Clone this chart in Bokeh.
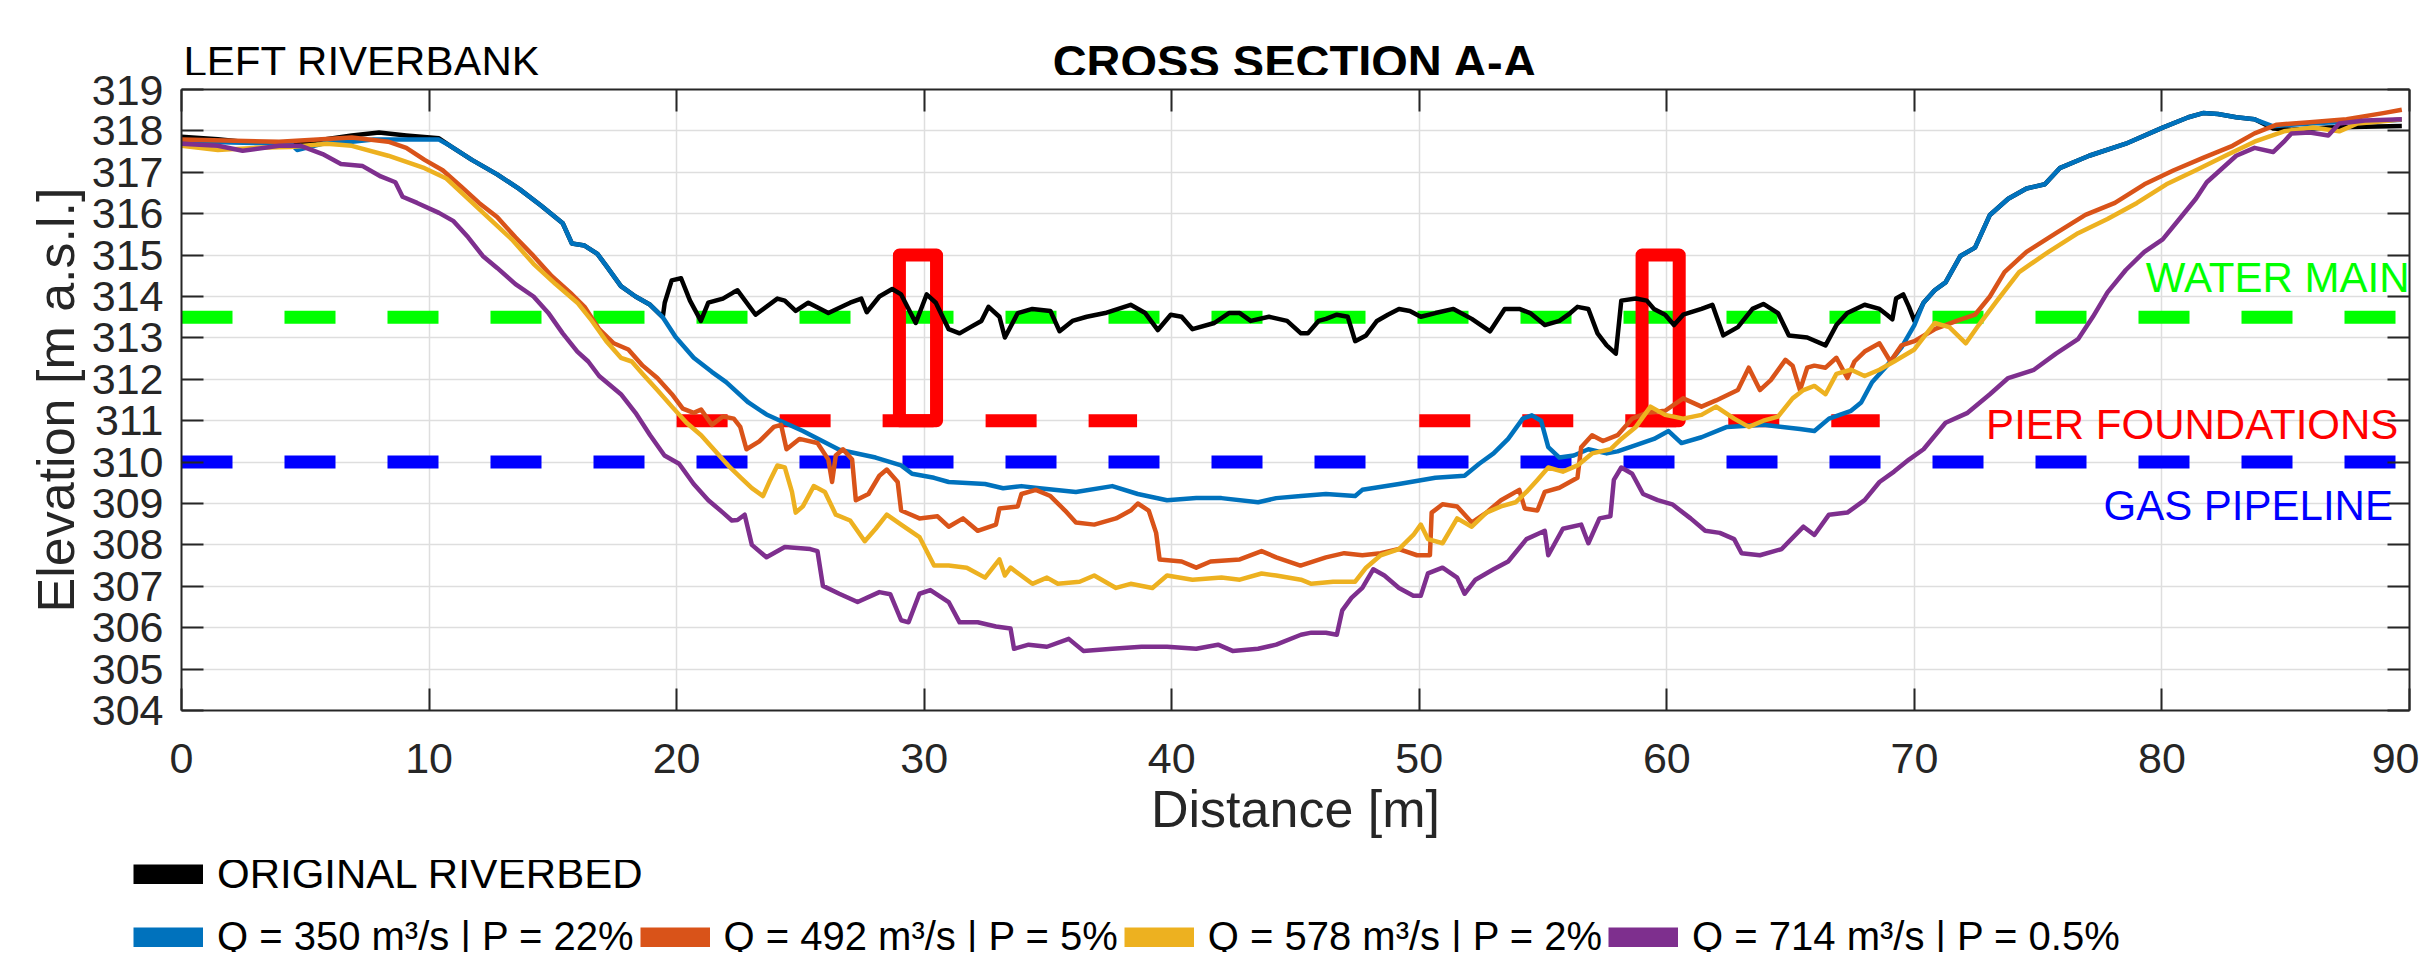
from bokeh.plotting import figure
from bokeh.layouts import column
from bokeh.models import Range1d, FixedTicker, LinearAxis, Label, Legend, LegendItem
from bokeh.embed import file_html
from bokeh.resources import INLINE

FONT = "Liberation Sans"
AX = "#262626"
GRID = "#DEDEDE"
NAN = float("nan")

# ---------------- data ----------------
x_ticks = [0, 10, 20, 30, 40, 50, 60, 70, 80, 90]
y_ticks = list(range(304, 320))

names = ["ORIGINAL RIVERBED",
         "Q = 350 m³/s | P = 22%",
         "Q = 492 m³/s | P = 5%",
         "Q = 578 m³/s | P = 2%",
         "Q = 714 m³/s | P = 0.5%"]
colors = ["#000000", "#0072BD", "#D95319", "#EDB120", "#7E2F8E"]

orig_x = [0, 1.47, 2.47, 4.41, 5.41, 6.88, 7.98, 9.08, 10.4, 10.85,
          11.73, 12.75, 13.64, 14.52, 15.4, 15.77, 16.28, 16.8, 17.16, 17.75,
          18.34, 18.93, 19.44, 19.52, 19.8, 20.18, 20.54, 20.98, 21.28, 21.87,
          22.3, 22.46, 23.19, 24.07, 24.37, 24.81, 25.32, 26.13, 27.01, 27.46,
          27.68, 28.19, 28.71, 29.07, 29.66, 30.1, 30.47, 30.99, 31.43, 31.87,
          32.31, 32.6, 33.04, 33.26, 33.78, 34.37, 35.1, 35.47, 35.99, 36.57,
          37.31, 38.34, 38.93, 39.44, 39.96, 40.4, 40.84, 41.72, 42.31, 42.75,
          43.19, 43.93, 44.66, 45.22, 45.5, 45.93, 46.23, 46.67, 47.11, 47.41,
          47.85, 48.29, 48.73, 49.18, 49.62, 50.06, 50.65, 51.38, 52.12, 52.86,
          53.45, 54.04, 54.48, 55.07, 55.66, 56.1, 56.39, 56.83, 57.2, 57.57,
          57.94, 58.16, 58.75, 59.19, 59.48, 59.93, 60.29, 60.66, 61.4, 61.84,
          62.28, 62.87, 63.46, 63.9, 64.49, 64.93, 65.67, 66.41, 66.85, 67.29,
          67.99, 68.59, 68.89, 69.11, 69.26, 69.55, 69.78, 70.0, 70.37, 70.82,
          71.26, 71.86, 72.45, 73.05, 73.79, 74.53, 75.27, 75.87, 77.06, 78.54,
          80.03, 81.07, 81.66, 82.26, 83.0, 83.74, 84.49, 85.23, 86.72, 88.2,
          89.69]
orig_y = [317.86, 317.8, 317.74, 317.69, 317.76, 317.89, 317.96, 317.89, 317.82, 317.64,
          317.3, 316.95, 316.6, 316.2, 315.77, 315.28, 315.23, 315.03, 314.74, 314.25,
          314.0, 313.8, 313.5, 313.85, 314.39, 314.44, 313.9, 313.41, 313.85, 313.95,
          314.1, 314.15, 313.56, 313.95, 313.9, 313.65, 313.85, 313.6, 313.85, 313.95,
          313.62, 314.0, 314.18, 314.05, 313.36, 314.05, 313.85, 313.21, 313.11, 313.26,
          313.41, 313.75, 313.51, 313.01, 313.6, 313.7, 313.65, 313.16, 313.41, 313.51,
          313.6, 313.8, 313.6, 313.19, 313.56, 313.51, 313.21, 313.36, 313.6, 313.6,
          313.41, 313.51, 313.41, 313.11, 313.11, 313.41, 313.46, 313.56, 313.51, 312.92,
          313.06, 313.41, 313.56, 313.7, 313.65, 313.51, 313.6, 313.7, 313.46, 313.16,
          313.7, 313.7, 313.6, 313.31, 313.41, 313.6, 313.75, 313.7, 313.11, 312.82,
          312.62, 313.9, 313.95, 313.9, 313.7, 313.56, 313.31, 313.56, 313.7, 313.8,
          313.06, 313.26, 313.7, 313.82, 313.6, 313.06, 313.01, 312.82, 313.31, 313.6,
          313.8, 313.7, 313.56, 313.45, 313.95, 314.05, 313.75, 313.41, 313.85, 314.15,
          314.34, 314.98, 315.18, 315.97, 316.36, 316.61, 316.71, 317.1, 317.4, 317.69,
          318.08, 318.33, 318.43, 318.41, 318.33, 318.28, 318.06, 318.03, 318.08, 318.1,
          318.12]

q350_x = [0, 2.0, 4.41, 4.67, 5.88, 6.88, 7.76, 9.82, 10.4, 10.85,
          11.73, 12.75, 13.64, 14.52, 15.4, 15.77, 16.28, 16.8, 17.16, 17.75,
          18.34, 18.93, 19.44, 19.96, 20.69, 21.42, 22.0, 22.9, 23.63, 25.1,
          26.57, 28.04, 29.07, 29.51, 30.4, 30.99, 32.46, 33.19, 33.93, 34.66,
          36.13, 37.6, 38.63, 39.81, 40.99, 42.01, 43.49, 44.22, 45.22, 46.23,
          47.41, 47.7, 49.18, 50.65, 51.83, 52.42, 53.0, 53.59, 54.18, 54.55,
          54.92, 55.21, 55.66, 56.24, 56.83, 57.57, 58.01, 58.75, 59.48, 60.07,
          60.59, 61.4, 62.43, 63.9, 65.38, 65.96, 66.55, 67.44, 67.85, 68.29,
          68.89, 69.48, 70.0, 70.37, 70.82, 71.26, 71.86, 72.45, 73.05, 73.79,
          74.53, 75.27, 75.87, 77.06, 78.54, 80.03, 81.07, 81.66, 82.26, 83.0,
          83.74, 84.49, 85.23, 86.72, 88.2, 89.69]
q350_y = [317.76, 317.72, 317.69, 317.54, 317.72, 317.74, 317.79, 317.79, 317.79, 317.64,
          317.3, 316.95, 316.6, 316.2, 315.77, 315.28, 315.23, 315.03, 314.74, 314.25,
          314.0, 313.8, 313.5, 313.02, 312.52, 312.18, 311.93, 311.44, 311.15, 310.75,
          310.3, 310.11, 309.92, 309.72, 309.62, 309.52, 309.47, 309.37, 309.42, 309.37,
          309.28, 309.42, 309.23, 309.08, 309.13, 309.13, 309.03, 309.13, 309.18, 309.23,
          309.18, 309.33, 309.47, 309.62, 309.67, 309.96, 310.21, 310.56, 311.05, 311.13,
          311.0, 310.36, 310.11, 310.16, 310.31, 310.21, 310.26, 310.41, 310.56, 310.75,
          310.46, 310.6, 310.85, 310.9, 310.8, 310.75, 311.05, 311.24, 311.44, 311.93,
          312.33, 312.77, 313.31, 313.85, 314.15, 314.34, 314.98, 315.18, 315.97, 316.36,
          316.61, 316.71, 317.1, 317.4, 317.69, 318.08, 318.33, 318.43, 318.41, 318.33,
          318.28, 318.11, 318.15, 318.2, 318.22, 318.27]

q492_x = [0, 3.94, 6.88, 8.35, 9.08, 9.82, 10.55, 11.29, 12.02, 12.75,
          13.49, 14.22, 14.96, 15.69, 16.28, 16.87, 17.46, 18.05, 18.63, 19.22,
          19.81, 20.25, 20.69, 20.99, 21.42, 21.87, 22.31, 22.57, 22.82, 23.34,
          23.93, 24.22, 24.44, 24.96, 25.69, 26.13, 26.28, 26.43, 26.72, 27.09,
          27.24, 27.75, 28.19, 28.49, 28.93, 29.07, 29.81, 30.54, 30.99, 31.57,
          32.16, 32.9, 33.04, 33.78, 33.93, 34.51, 35.1, 35.69, 36.13, 36.87,
          37.75, 38.34, 38.63, 39.07, 39.37, 39.51, 40.4, 40.99, 41.57, 42.75,
          43.63, 44.22, 45.2, 46.23, 46.97, 47.7, 48.44, 49.18, 49.91, 50.43,
          50.5, 50.94, 51.53, 52.12, 52.71, 53.3, 54.04, 54.26, 54.77, 55.07,
          55.66, 56.39, 56.54, 56.98, 57.42, 58.01, 58.6, 59.19, 59.93, 60.66,
          61.4, 61.99, 62.87, 63.31, 63.76, 64.2, 64.79, 65.08, 65.38, 65.67,
          65.96, 66.41, 66.85, 67.29, 67.58, 67.99, 68.59, 69.03, 69.48, 70.0,
          70.82, 71.71, 72.45, 73.05, 73.64, 74.53, 75.72, 76.91, 78.1, 79.29,
          80.48, 81.66, 82.85, 83.74, 84.64, 85.97, 87.46, 88.94, 89.69]
q492_y = [317.79, 317.74, 317.84, 317.74, 317.59, 317.3, 317.05, 316.66, 316.26, 315.92,
          315.43, 314.98, 314.49, 314.1, 313.75, 313.21, 312.87, 312.72, 312.33, 312.03,
          311.64, 311.29, 311.19, 311.27, 310.9, 311.1, 311.05, 310.85, 310.31, 310.5,
          310.85, 310.9, 310.31, 310.56, 310.46, 310.06, 309.52, 310.16, 310.31, 310.06,
          309.08, 309.23, 309.67, 309.82, 309.52, 308.83, 308.64, 308.69, 308.44, 308.64,
          308.34, 308.49, 308.88, 308.93, 309.23, 309.33, 309.18, 308.83, 308.54, 308.49,
          308.64, 308.83, 309.0, 308.83, 308.29, 307.65, 307.6, 307.45, 307.6, 307.65,
          307.85, 307.7, 307.5, 307.7, 307.8, 307.75, 307.8, 307.9, 307.75, 307.75,
          308.78, 308.98, 308.93, 308.54, 308.78, 309.08, 309.33, 308.88, 308.83, 309.28,
          309.38, 309.62, 310.36, 310.65, 310.51, 310.65, 311.05, 311.19, 311.24, 311.54,
          311.34, 311.49, 311.74, 312.28, 311.74, 311.98, 312.47, 312.33, 311.74, 312.28,
          312.33, 312.28, 312.52, 312.03, 312.43, 312.67, 312.87, 312.43, 312.82, 312.92,
          313.21, 313.41, 313.56, 314.0, 314.59, 315.08, 315.53, 315.97, 316.26, 316.71,
          317.05, 317.35, 317.64, 317.94, 318.15, 318.21, 318.28, 318.43, 318.51]

q578_x = [0, 1.47, 2.94, 4.41, 5.88, 6.88, 8.35, 9.82, 10.7, 11.58,
          12.46, 13.34, 14.22, 15.11, 15.99, 16.58, 17.16, 17.75, 18.19, 18.63,
          19.22, 19.81, 20.4, 20.99, 21.57, 22.16, 22.6, 23.04, 23.49, 23.78,
          24.07, 24.37, 24.66, 24.81, 25.1, 25.54, 25.99, 26.43, 27.01, 27.6,
          28.04, 28.49, 29.07, 29.81, 30.4, 30.99, 31.72, 32.46, 33.04, 33.26,
          33.49, 34.37, 34.96, 35.4, 36.28, 36.87, 37.75, 38.34, 39.22, 39.81,
          40.84, 42.01, 42.75, 43.63, 44.22, 45.22, 45.64, 46.52, 47.41, 47.85,
          48.44, 49.18, 49.76, 50.06, 50.35, 50.94, 51.53, 52.12, 52.71, 53.3,
          53.89, 54.33, 54.77, 55.21, 55.8, 56.39, 56.98, 57.72, 58.16, 58.75,
          59.34, 59.93, 60.66, 61.4, 61.99, 62.72, 63.31, 63.9, 64.49, 65.08,
          65.52, 65.96, 66.41, 66.85, 67.44, 67.99, 68.59, 69.18, 70.0, 70.82,
          71.41, 72.08, 72.6, 73.34, 74.23, 75.42, 76.61, 77.8, 78.99, 80.18,
          81.37, 82.56, 83.74, 84.93, 86.12, 87.16, 87.9, 88.94, 89.69]
q578_y = [317.64, 317.54, 317.59, 317.61, 317.69, 317.64, 317.4, 317.1, 316.85, 316.36,
          315.87, 315.38, 314.79, 314.3, 313.85, 313.41, 312.92, 312.52, 312.43, 312.13,
          311.74, 311.34, 310.95, 310.65, 310.26, 309.87, 309.62, 309.37, 309.18, 309.57,
          309.92, 309.87, 309.28, 308.78, 308.93, 309.42, 309.28, 308.73, 308.59, 308.09,
          308.39, 308.73, 308.49, 308.19, 307.5, 307.5, 307.45, 307.21, 307.65, 307.26,
          307.45, 307.06, 307.21, 307.06, 307.11, 307.26, 306.96, 307.06, 306.96, 307.26,
          307.16, 307.21, 307.16, 307.31, 307.26, 307.16, 307.06, 307.11, 307.11, 307.45,
          307.75, 307.9, 308.24, 308.49, 308.14, 308.04, 308.64, 308.44, 308.78, 308.93,
          309.03, 309.28, 309.57, 309.87, 309.77, 309.92, 310.21, 310.31, 310.56, 310.85,
          311.34, 311.14, 311.05, 311.14, 311.34, 311.05, 310.85, 311.0, 311.1, 311.54,
          311.74, 311.84, 311.64, 312.13, 312.23, 312.08, 312.23, 312.43, 312.72, 313.36,
          313.26, 312.87, 313.31, 313.9, 314.59, 315.08, 315.53, 315.87, 316.26, 316.71,
          317.05, 317.4, 317.74, 317.99, 318.08, 317.99, 318.18, 318.23, 318.28]

q714_x = [0, 1.47, 2.47, 3.94, 4.82, 5.7, 6.44, 7.32, 8.05, 8.64,
          8.93, 9.52, 10.4, 10.99, 11.58, 12.17, 12.75, 13.49, 14.22, 14.81,
          15.4, 15.99, 16.43, 16.87, 17.75, 18.34, 18.93, 19.51, 20.1, 20.69,
          21.28, 21.87, 22.23, 22.46, 22.75, 23.04, 23.63, 24.37, 25.4, 25.69,
          25.91, 26.57, 27.31, 28.19, 28.63, 29.07, 29.37, 29.81, 30.25, 30.99,
          31.43, 32.16, 32.9, 33.49, 33.63, 34.22, 34.96, 35.84, 36.43, 37.6,
          38.78, 39.81, 40.99, 41.87, 42.46, 43.49, 44.22, 45.22, 45.64, 46.23,
          46.67, 46.89, 47.26, 47.7, 48.14, 48.59, 49.18, 49.76, 50.06, 50.35,
          50.94, 51.53, 51.83, 52.27, 53.0, 53.59, 54.33, 55.07, 55.21, 55.8,
          56.54, 56.83, 57.28, 57.72, 57.86, 58.16, 58.6, 59.04, 59.63, 60.22,
          60.96, 61.55, 62.14, 62.72, 63.02, 63.76, 64.64, 65.52, 65.96, 66.55,
          67.29, 67.99, 68.59, 69.18, 69.78, 70.37, 71.26, 72.15, 73.05, 73.79,
          74.83, 75.72, 76.61, 77.21, 77.8, 78.54, 79.29, 80.03, 80.77, 81.37,
          81.81, 82.26, 83.0, 83.74, 84.49, 84.93, 85.23, 85.97, 86.72, 87.16,
          88.2, 89.69]
q714_y = [317.69, 317.64, 317.52, 317.64, 317.64, 317.44, 317.2, 317.15, 316.9, 316.76,
          316.41, 316.26, 316.02, 315.82, 315.43, 314.98, 314.69, 314.3, 314.0, 313.61,
          313.11, 312.67, 312.43, 312.08, 311.64, 311.19, 310.65, 310.16, 309.96, 309.47,
          309.08, 308.78, 308.59, 308.6, 308.73, 308.0, 307.7, 307.95, 307.9, 307.85,
          307.01, 306.82, 306.62, 306.86, 306.81, 306.18, 306.13, 306.82, 306.91, 306.62,
          306.13, 306.13, 306.03, 305.98, 305.49, 305.59, 305.54, 305.73, 305.44, 305.49,
          305.54, 305.54, 305.49, 305.59, 305.44, 305.49, 305.59, 305.83, 305.88, 305.88,
          305.83, 306.42, 306.72, 306.96, 307.41, 307.26, 306.96, 306.77, 306.77, 307.31,
          307.45, 307.21, 306.82, 307.16, 307.41, 307.6, 308.14, 308.34, 307.75, 308.39,
          308.49, 308.04, 308.64, 308.69, 309.57, 309.87, 309.72, 309.23, 309.08, 308.98,
          308.64, 308.34, 308.29, 308.14, 307.8, 307.75, 307.9, 308.44, 308.24, 308.73,
          308.78, 309.08, 309.52, 309.77, 310.06, 310.31, 310.95, 311.19, 311.64, 312.03,
          312.23, 312.62, 312.97, 313.51, 314.1, 314.64, 315.08, 315.38, 315.92, 316.36,
          316.76, 317.0, 317.4, 317.59, 317.49, 317.74, 317.94, 317.96, 317.89, 318.18,
          318.25, 318.28]

# utilities
section_extent = [0, 90]
water_main_level = 313.5
gas_pipeline_level = 310.0
pier_foundation_level = 311.0
pier_foundation_start = [20.0, 50.0]
pier_foundation_end = [38.6, 68.6]
pier_left = [29.0, 59.0]
pier_right = [30.5, 60.5]
pier_bottom = [311.0, 311.0]
pier_top = [315.0, 315.0]

W = 2419
HEAD_H, MAIN_H, FOOT_H = 75, 785, 92

# ---------------- header (headings) ----------------
head = figure(width=W, height=HEAD_H, output_backend="svg", toolbar_location=None,
              x_axis_type=None, y_axis_type=None,
              x_range=Range1d(0, 90), y_range=Range1d(0, HEAD_H),
              min_border_left=181, min_border_right=10, min_border_top=0, min_border_bottom=0,
              background_fill_color="white", border_fill_color="white")
head.outline_line_color = None
head.grid.visible = False
head.add_layout(Label(x=0.08, y=14, text="LEFT RIVERBANK", text_align="left",
                      text_baseline="middle", text_font=FONT, text_font_size="42px",
                      text_color="#000000"))
head.add_layout(Label(x=45, y=14, text="CROSS SECTION A-A", text_align="center",
                      text_baseline="middle", text_font=FONT, text_font_size="47px",
                      text_font_style="bold", text_color="#000000"))

# ---------------- main plot ----------------
p = figure(width=W, height=MAIN_H, x_range=Range1d(0, 90), y_range=Range1d(304, 319),
           output_backend="svg", toolbar_location=None,
           min_border_left=181, min_border_right=10, min_border_top=14, min_border_bottom=150,
           background_fill_color="white", border_fill_color="white")
p.outline_line_color = None

def style_axis(ax, ticks, show_labels=True):
    ax.ticker = FixedTicker(ticks=ticks)
    ax.axis_line_color = AX
    ax.axis_line_width = 2
    ax.major_tick_line_color = AX
    ax.major_tick_line_width = 2
    ax.major_tick_in = 22
    ax.major_tick_out = 0
    ax.minor_tick_line_color = None
    ax.major_label_text_font = FONT
    ax.major_label_text_color = AX
    if show_labels:
        ax.major_label_text_font_size = "43px"
    else:
        ax.major_label_text_font_size = "1px"
        ax.major_label_text_color = None
        ax.major_label_standoff = 0

xa = p.xaxis[0]
ya = p.yaxis[0]
style_axis(xa, x_ticks)
style_axis(ya, y_ticks)
xa.major_label_standoff = 33
ya.major_label_standoff = 18
xa.axis_label = "Distance [m]"
ya.axis_label = "Elevation [m a.s.l.]"
for ax in (xa, ya):
    ax.axis_label_text_font = FONT
    ax.axis_label_text_font_size = "52px"
    ax.axis_label_text_font_style = "normal"
    ax.axis_label_text_color = AX
    ax.axis_label_standoff = 4

top_ax = LinearAxis()
style_axis(top_ax, x_ticks, show_labels=False)
p.add_layout(top_ax, "above")
right_ax = LinearAxis()
style_axis(right_ax, y_ticks, show_labels=False)
p.add_layout(right_ax, "right")

p.xgrid.ticker = FixedTicker(ticks=x_ticks)
p.ygrid.ticker = FixedTicker(ticks=y_ticks)
for g in (p.xgrid, p.ygrid):
    g.grid_line_color = GRID
    g.grid_line_width = 1.5

# utility lines
p.line(section_extent, [water_main_level] * 2, line_color="#00FF00", line_width=13, line_dash="51 52")
p.line(section_extent, [gas_pipeline_level] * 2, line_color="#0000FF", line_width=13, line_dash="51 52")
p.multi_line([[s, e] for s, e in zip(pier_foundation_start, pier_foundation_end)],
             [[pier_foundation_level] * 2 for _ in pier_foundation_start],
             line_color="#FF0000", line_width=13, line_dash="51 52")
p.quad(left=pier_left, right=pier_right, bottom=pier_bottom, top=pier_top,
       fill_color=None, line_color="#FF0000", line_width=13, line_join="round")

# profiles
series = [(orig_x, orig_y), (q350_x, q350_y), (q492_x, q492_y), (q578_x, q578_y), (q714_x, q714_y)]
for (xs, ys), c in zip(series, colors):
    p.line(xs, ys, line_color=c, line_width=4.5, line_join="round")

def lab(x, y, text, color):
    return Label(x=x, y=y, text=text, text_align="right", text_baseline="middle",
                 text_font=FONT, text_font_size="42px", text_color=color)

p.add_layout(lab(90.0, 314.47, "WATER MAIN", "#00FF00"))
p.add_layout(lab(89.55, 310.91, "PIER FOUNDATIONS", "#FF0000"))
p.add_layout(lab(89.33, 308.96, "GAS PIPELINE", "#0000FF"))

# ---------------- footer (legend), separate root so it is not frame-aligned ----------------
foot = figure(width=W, height=FOOT_H, output_backend="svg", toolbar_location=None,
              x_axis_type=None, y_axis_type=None, x_range=Range1d(0, 1), y_range=Range1d(0, 1),
              min_border=0, background_fill_color="white", border_fill_color="white")
foot.outline_line_color = None
foot.grid.visible = False
swatches = [foot.line([NAN], [NAN], line_color=c, line_width=20, line_cap="butt") for c in colors]

def make_legend(idx, loc, size):
    leg = Legend(items=[LegendItem(label=names[i], renderers=[swatches[i]]) for i in idx],
                 location=loc, orientation="horizontal",
                 glyph_width=70, glyph_height=20, label_standoff=14, spacing=6,
                 padding=0, margin=0, border_line_color=None, background_fill_alpha=0,
                 label_text_font=FONT, label_text_font_size=size, label_text_color="#000000")
    foot.add_layout(leg)

make_legend([0], (133, 54), "42px")
make_legend([1, 2, 3, 4], (133, -7), "40px")

top_block = column(head, p, spacing=0)
open("out.html", "w").write(file_html([top_block, foot], INLINE))
